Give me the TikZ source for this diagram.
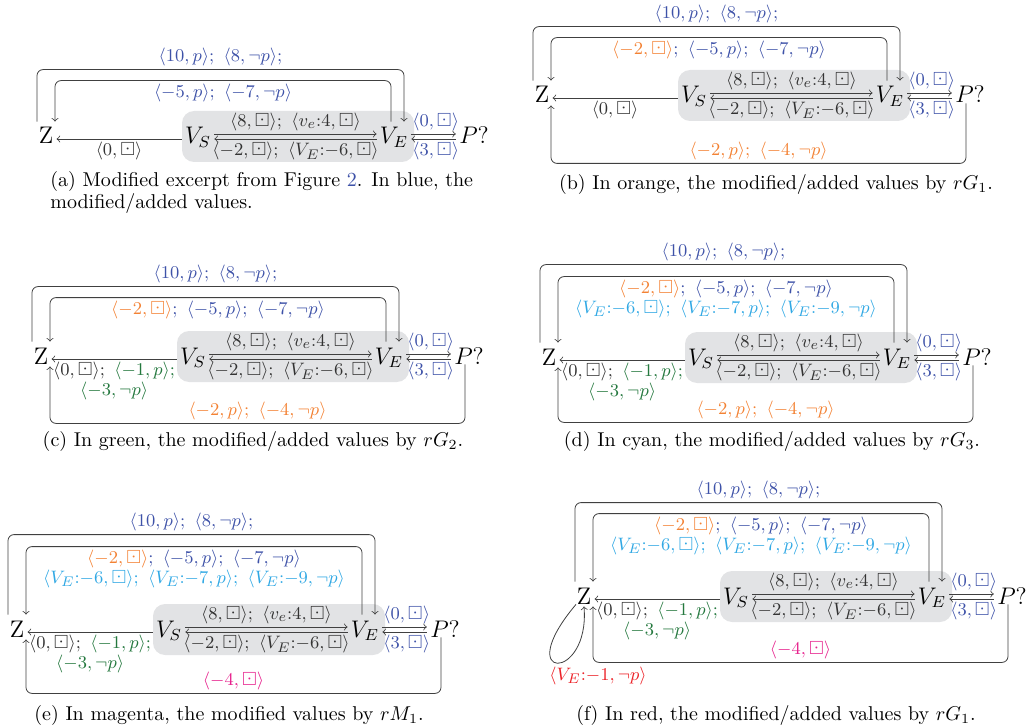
\documentclass[tikz,border=0pt]{standalone}
\usepackage{amssymb}
\usetikzlibrary{calc}

\definecolor{cblue}{RGB}{62,82,168}
\definecolor{corange}{RGB}{243,130,52}
\definecolor{cgreen}{RGB}{36,120,62}
\definecolor{ccyan}{RGB}{48,168,228}
\definecolor{cmag}{RGB}{230,32,140}
\definecolor{cred}{RGB}{236,34,40}
\definecolor{boxgray}{RGB}{226,227,229}

\tikzset{
  vtx/.style={inner xsep=1.5pt, inner ysep=0pt, text height=11pt, text depth=0pt,
    font=\fontsize{12}{14}\selectfont, anchor=base},
  lbl/.style={inner sep=1.5pt, font=\fontsize{9.5}{10}\selectfont, text=black!80},
  link/.style={->, draw=black!75},
  captxt/.style={font=\fontsize{10}{11}\selectfont, inner sep=0pt},
}

\newcommand{\vpair}[2]{\langle #1, #2\rangle}

% common part of every panel: the shaded V_S/V_E pair and P?
\newcommand{\chain}[1]{%
  \fill[boxgray, rounded corners=6pt] (136,-33) rectangle (368,18);
  \node[vtx] (Z#1) at (0,0) {Z};
  \node[vtx] (VS#1) at (152,0) {$V_S$};
  \node[vtx] (VE#1) at (348,0) {$V_E$};
  \node[vtx] (P#1) at (428,0) {$P?$};
  \draw[link] ([yshift=5pt]VS#1.base east) -- ([yshift=5pt]VE#1.base west)
    node[lbl, midway, above] (up#1) {$\vpair{8}{\boxdot};\ \vpair{v_e{:}4}{\boxdot}$};
  \draw[link] ([yshift=2.5pt]VE#1.base west) -- ([yshift=2.5pt]VS#1.base east)
    node[lbl, midway, below] (dn#1) {$\vpair{-2}{\boxdot};\ \vpair{V_E{:}{-6}}{\boxdot}$};
  \draw[link] ([yshift=5pt]VE#1.base east) -- ([yshift=5pt]P#1.base west)
    node[lbl, midway, above, xshift=1pt, text=cblue] (pu#1) {$\vpair{0}{\boxdot}$};
  \draw[link] ([yshift=2.5pt]P#1.base west) -- ([yshift=2.5pt]VE#1.base east)
    node[lbl, midway, below, xshift=1pt, text=cblue] (pd#1) {$\vpair{3}{\boxdot}$};
}

\begin{document}
\begin{tikzpicture}[x=0.5pt, y=-0.5pt]
    \useasboundingbox (0,0) rectangle (1033,727);

    % (a) excerpt
    \begin{scope}[shift={(46,144)}]
    \chain{a}
    \draw[link] ([yshift=2.5pt]VSa.base west) -- ([yshift=2.5pt]Za.base east)
        node[lbl, midway, below] (za) {$\vpair{0}{\boxdot}$};
    \draw[link, rounded corners=3pt] ([xshift=-4.5pt]Za.north) -- ++(0,-52)
        -| node[lbl, pos=0.25, above, text=cblue] (ta) {$\vpair{10}{p};\ \vpair{8}{\neg p};$}
        ([xshift=5pt]VEa.north);
    \draw[link, rounded corners=3pt] ([xshift=-1.5pt]VEa.north) -- ++(0,-41)
        -| node[lbl, pos=0.25, below, text=cblue] (ia) {$\vpair{-5}{p};\ \vpair{-7}{\neg p}$}
        ([xshift=4.5pt]Za.north);
    \end{scope}
    \node[captxt, align=left, anchor=west] (capa) at (50,193)
        {(a) Modified excerpt from Figure {\color{cblue}2}. In blue, the\\modified/added values.};

    % (b) orange
    \begin{scope}[shift={(542,103)}]
    \chain{b}
    \draw[link] ([yshift=2.5pt]VSb.base west) -- ([yshift=2.5pt]Zb.base east)
        node[lbl, midway, below] (zb) {$\vpair{0}{\boxdot}$};
    \draw[link, rounded corners=3pt] ([xshift=-4.5pt]Zb.north) -- ++(0,-54)
        -| node[lbl, pos=0.25, above, text=cblue] (tb) {$\vpair{10}{p};\ \vpair{8}{\neg p};$}
        ([xshift=5pt]VEb.north);
    \draw[link, rounded corners=3pt] ([xshift=-1.5pt]VEb.north) -- ++(0,-43)
        -| node[lbl, pos=0.25, below, text=cblue] (ib)
        {${\color{corange}\vpair{-2}{\boxdot}};\ \vpair{-5}{p};\ \vpair{-7}{\neg p}$}
        ([xshift=4.5pt]Zb.north);
    \draw[link, rounded corners=3pt] ([xshift=-2pt]Pb.south) -- ++(0,60)
        -| node[lbl, pos=0.25, above, text=corange] (bb) {$\vpair{-2}{p};\ \vpair{-4}{\neg p}$}
        ([xshift=4.5pt,yshift=-1pt]Zb.south);
    \end{scope}
    \node[captxt] (capb) at (776,185) {(b) In orange, the modified/added values by $rG_1$.};

    % (c) green
    \begin{scope}[shift={(41,364)}]
    \chain{c}
    \draw[link] ([yshift=2.5pt]VSc.base west) -- ([yshift=2.5pt]Zc.base east)
        node[lbl, midway, below, align=center] (zc)
        {$\vpair{0}{\boxdot};\ {\color{cgreen}\vpair{-1}{p};}$\\{\color{cgreen}$\vpair{-3}{\neg p}$}};
    \draw[link, rounded corners=3pt] ([xshift=-4.5pt]Zc.north) -- ++(0,-55)
        -| node[lbl, pos=0.25, above, text=cblue] (tc) {$\vpair{10}{p};\ \vpair{8}{\neg p};$}
        ([xshift=5pt]VEc.north);
    \draw[link, rounded corners=3pt] ([xshift=-1.5pt]VEc.north) -- ++(0,-44)
        -| node[lbl, pos=0.25, below, text=cblue] (ic)
        {${\color{corange}\vpair{-2}{\boxdot}};\ \vpair{-5}{p};\ \vpair{-7}{\neg p}$}
        ([xshift=4.5pt]Zc.north);
    \draw[link, rounded corners=3pt] ([xshift=-2pt]Pc.south) -- ++(0,59)
        -| node[lbl, pos=0.25, above, text=corange] (bc) {$\vpair{-2}{p};\ \vpair{-4}{\neg p}$}
        ([xshift=4.5pt,yshift=-1pt]Zc.south);
    \end{scope}
    \node[captxt] (capc) at (253,441) {(c) In green, the modified/added values by $rG_2$.};

    % (d) cyan
    \begin{scope}[shift={(549,365)}]
    \chain{d}
    \draw[link] ([yshift=2.5pt]VSd.base west) -- ([yshift=2.5pt]Zd.base east)
        node[lbl, midway, below, align=center] (zd)
        {$\vpair{0}{\boxdot};\ {\color{cgreen}\vpair{-1}{p};}$\\{\color{cgreen}$\vpair{-3}{\neg p}$}};
    \draw[link, rounded corners=3pt] ([xshift=-4.5pt]Zd.north) -- ++(0,-78)
        -| node[lbl, pos=0.25, above, text=cblue] (td) {$\vpair{10}{p};\ \vpair{8}{\neg p};$}
        ([xshift=5pt]VEd.north);
    \draw[link, rounded corners=3pt] ([xshift=-1.5pt]VEd.north) -- ++(0,-66)
        -| node[lbl, pos=0.25, below, text=cblue, align=center] (id)
        {${\color{corange}\vpair{-2}{\boxdot}};\ \vpair{-5}{p};\ \vpair{-7}{\neg p}$\\
         {\color{ccyan}$\vpair{V_E{:}{-6}}{\boxdot};\ \vpair{V_E{:}{-7}}{p};\ \vpair{V_E{:}{-9}}{\neg p}$}}
        ([xshift=4.5pt]Zd.north);
    \draw[link, rounded corners=3pt] ([xshift=-2pt]Pd.south) -- ++(0,57)
        -| node[lbl, pos=0.25, above, text=corange] (bd) {$\vpair{-2}{p};\ \vpair{-4}{\neg p}$}
        ([xshift=4.5pt,yshift=-1pt]Zd.south);
    \end{scope}
    \node[captxt] (capd) at (772,441) {(d) In cyan, the modified/added values by $rG_3$.};

    % (e) magenta
    \begin{scope}[shift={(17,637)}]
    \chain{e}
    \draw[link] ([yshift=2.5pt]VSe.base west) -- ([yshift=2.5pt]Ze.base east)
        node[lbl, midway, below, align=center] (ze)
        {$\vpair{0}{\boxdot};\ {\color{cgreen}\vpair{-1}{p};}$\\{\color{cgreen}$\vpair{-3}{\neg p}$}};
    \draw[link, rounded corners=3pt] ([xshift=-4.5pt]Ze.north) -- ++(0,-80)
        -| node[lbl, pos=0.25, above, text=cblue] (te) {$\vpair{10}{p};\ \vpair{8}{\neg p};$}
        ([xshift=5pt]VEe.north);
    \draw[link, rounded corners=3pt] ([xshift=-1.5pt]VEe.north) -- ++(0,-68)
        -| node[lbl, pos=0.25, below, text=cblue, align=center] (ie)
        {${\color{corange}\vpair{-2}{\boxdot}};\ \vpair{-5}{p};\ \vpair{-7}{\neg p}$\\
         {\color{ccyan}$\vpair{V_E{:}{-6}}{\boxdot};\ \vpair{V_E{:}{-7}}{p};\ \vpair{V_E{:}{-9}}{\neg p}$}}
        ([xshift=4.5pt]Ze.north);
    \draw[link, rounded corners=3pt] ([xshift=-2pt]Pe.south) -- ++(0,56)
        -| node[lbl, pos=0.25, above, text=cmag] (be) {$\vpair{-4}{\boxdot}$}
        ([xshift=4.5pt,yshift=-1pt]Ze.south);
    \end{scope}
    \node[captxt] (cape) at (229,715) {(e) In magenta, the modified values by $rM_1$.};

    % (f) red
    \begin{scope}[shift={(584,604)}]
    \chain{f}
    \draw[link] ([yshift=2.5pt]VSf.base west) -- ([yshift=2.5pt]Zf.base east)
        node[lbl, midway, below, align=center] (zf)
        {$\vpair{0}{\boxdot};\ {\color{cgreen}\vpair{-1}{p};}$\\{\color{cgreen}$\vpair{-3}{\neg p}$}};
    \draw[link, rounded corners=3pt] ([xshift=-4.5pt]Zf.north) -- ++(0,-79)
        -| node[lbl, pos=0.25, above, text=cblue] (tf) {$\vpair{10}{p};\ \vpair{8}{\neg p};$}
        ([xshift=5pt]VEf.north);
    \draw[link, rounded corners=3pt] ([xshift=-1.5pt]VEf.north) -- ++(0,-68)
        -| node[lbl, pos=0.25, below, text=cblue, align=center] (if)
        {${\color{corange}\vpair{-2}{\boxdot}};\ \vpair{-5}{p};\ \vpair{-7}{\neg p}$\\
         {\color{ccyan}$\vpair{V_E{:}{-6}}{\boxdot};\ \vpair{V_E{:}{-7}}{p};\ \vpair{V_E{:}{-9}}{\neg p}$}}
        ([xshift=4.5pt]Zf.north);
    \draw[link, rounded corners=3pt] ([xshift=-2pt]Pf.south) -- ++(0,58)
        -| node[lbl, pos=0.25, above, text=cmag] (bf) {$\vpair{-4}{\boxdot}$}
        ([xshift=4.5pt,yshift=-1pt]Zf.south);
    % self loop on Z
    \draw[link] ([xshift=-4pt]Zf.south) .. controls +(-66,78) and +(6,76) .. ([yshift=-1pt]Zf.south);
    \node[lbl, text=cred] (sf) at (14,72) {$\vpair{V_E{:}{-1}}{\neg p}$};
    \end{scope}
    \node[captxt] (capf) at (776,715) {(f) In red, the modified/added values by $rG_1$.};
\end{tikzpicture}
\end{document}
